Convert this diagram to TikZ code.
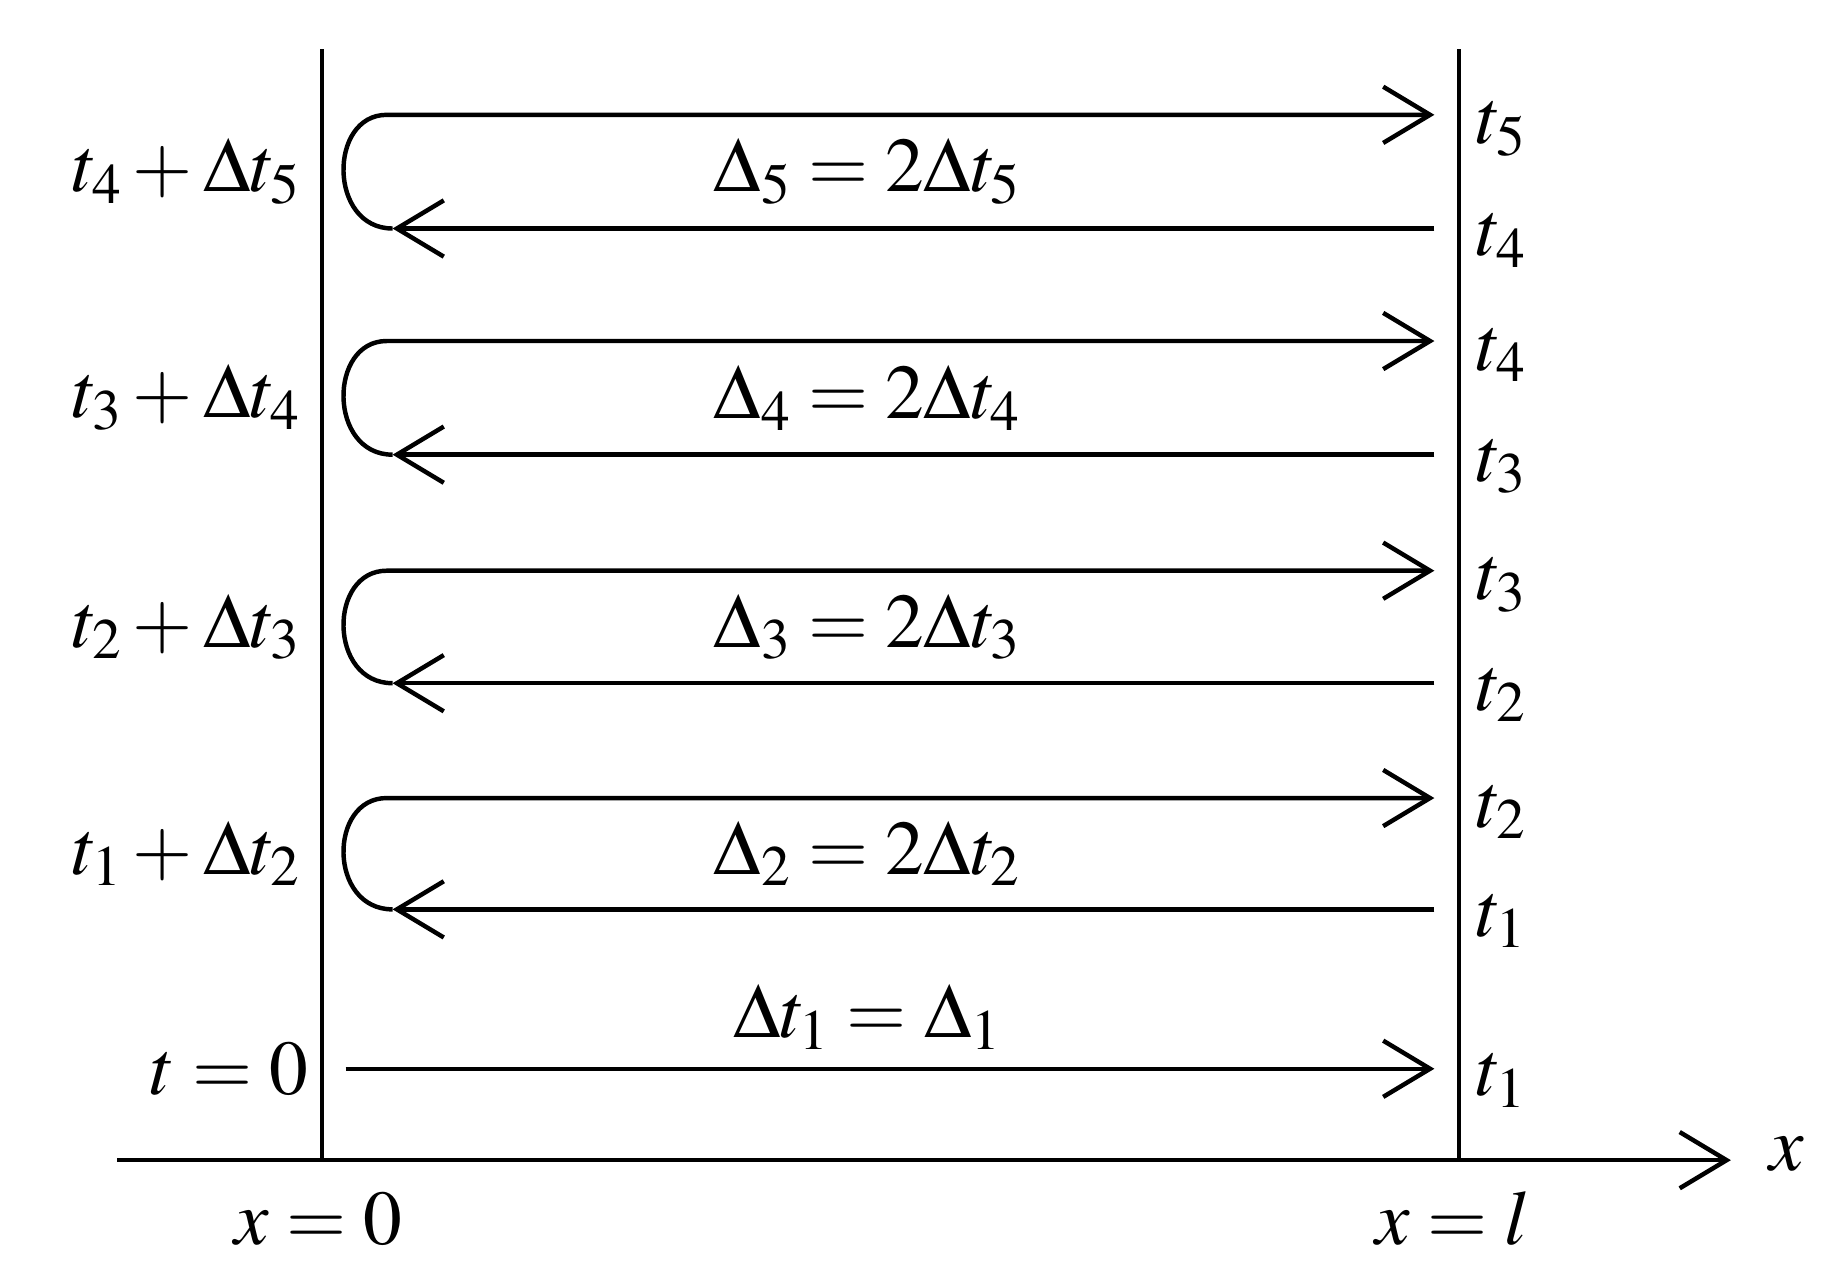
\documentclass[tikz,border=0pt]{standalone}
\usepackage{fontspec}
\setmainfont{Liberation Serif}
\usepackage{mathptmx}
\usetikzlibrary{arrows.meta}
\begin{document}
\begin{tikzpicture}[x=0.5pt,y=-0.5pt,line width=1.9pt,
  tip/.style={-{Straight Barb[length=20pt,width=24pt,line width=1.9pt]}},
  lbl/.style={font=\fontsize{33}{40}\selectfont,inner sep=0pt}]
\useasboundingbox (0,0) rectangle (1565,1080);
\coordinate (L0) at (275,42); \coordinate (L1) at (275,990);
\coordinate (R0) at (1245,42); \coordinate (R1) at (1245,990);
\draw (L0) -- (L1); \draw (R0) -- (R1);
\coordinate (A0) at (100,990); \coordinate (A1) at (1477,990);
\draw[tip] (A0) -- (A1);
\node[lbl] (xl) at (1525,985) {$x$};
\node[lbl] (x0) at (272,1040) {$x=0$};
\node[lbl] (xL) at (1240,1040) {$x=l$};
\foreach \yt/\yb/\i/\j in {98/195/4/5,291/388/3/4,487/583/2/3,681/776/1/2}{
  \coordinate (ta) at (330,\yt); \coordinate (tb) at (1224,\yt);
  \coordinate (ba) at (1224,\yb); \coordinate (bb) at (335,\yb);
  \draw[tip] (bb) .. controls (280,\yb) and (280,\yt) .. (ta) -- (tb);
  \draw[tip] (ba) -- (bb);
  \node[lbl,anchor=east] (l\j) at (258,{(\yt+\yb)/2}) {$t_{\i}+\Delta t_{\j}$};
  \node[lbl] (c\j) at (740,{(\yt+\yb)/2}) {$\Delta_{\j}=2\Delta t_{\j}$};
  \node[lbl,anchor=west] (rt\j) at (1258,\yt+12) {$t_{\j}$};
  \node[lbl,anchor=west] (rb\j) at (1258,\yb+10) {$t_{\i}$};
}
\coordinate (s0) at (295,912); \coordinate (s1) at (1224,912);
\draw[tip] (s0) -- (s1);
\node[lbl,anchor=east] (t0) at (265,912) {$t=0$};
\node[lbl] (c1) at (740,868) {$\Delta t_1=\Delta_1$};
\node[lbl,anchor=west] (r1) at (1258,922) {$t_1$};
\end{tikzpicture}
\end{document}
